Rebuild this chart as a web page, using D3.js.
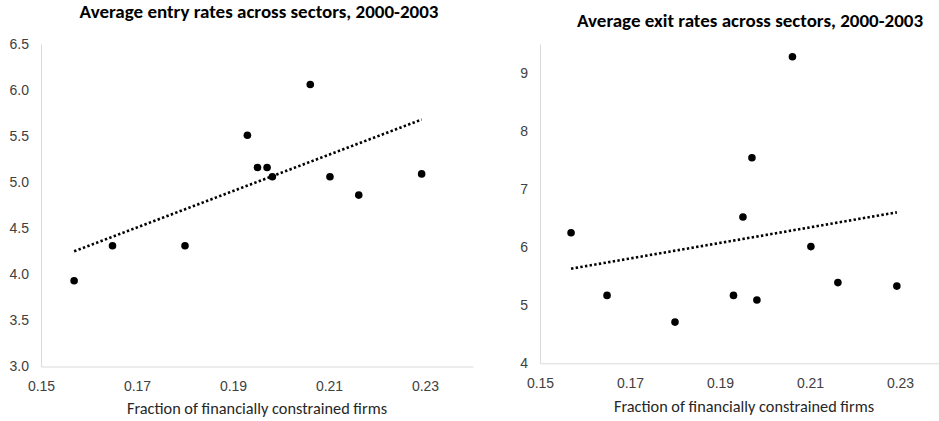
<!DOCTYPE html>
<html>
<head>
<meta charset="utf-8">
<script src="https://cdn.jsdelivr.net/npm/d3@7"></script>
<style>
  body { margin: 0; background: #fff; }
  svg { display: block; font-family: Carlito, Calibri, "Open Sans", sans-serif; }
  .axis .domain { stroke: #d9d9d9; stroke-width: 1; }
  .axis text { fill: #404040; font-size: 14px; }
  .title { font-weight: bold; font-size: 19px; fill: #000; }
  .xlabel { font-size: 16.3px; fill: #262626; }
</style>
</head>
<body>
<div class="chart"></div>
<script>
// fraction of financially constrained firms, one value per sector
const sectorShare = [0.1569, 0.1649, 0.1800, 0.1930, 0.1951, 0.1971, 0.1982, 0.2061, 0.2102, 0.2162, 0.2293];
// average entry / exit rates, same sector order
const entryRate = [3.93, 4.31, 4.31, 5.51, 5.16, 5.16, 5.06, 6.06, 5.06, 4.86, 5.09];
const exitRate  = [6.25, 5.17, 4.71, 5.17, 6.52, 7.54, 5.09, 9.28, 6.01, 5.39, 5.33];
// trend lines as drawn (end points)
const entryTrend = [[0.1569, 4.25], [0.2293, 5.68]];
const exitTrend  = [[0.1569, 5.63], [0.2293, 6.60]];
// ticks
const xTicks = [0.15, 0.17, 0.19, 0.21, 0.23];
const entryTicks = [3.0, 3.5, 4.0, 4.5, 5.0, 5.5, 6.0, 6.5];
const exitTicks = [4, 5, 6, 7, 8, 9];

const W = 939, H = 421;

var svg = d3.select(".chart")
    .append("svg")
    .attr("width", W)
    .attr("height", H);

function drawPanel(p)
{
    var x = d3.scaleLinear().domain([0.15, 0.24]).range([p.left, p.right]);
    var y = d3.scaleLinear().domain(p.yDomain).range([p.bottom, p.top]);

    var g = svg.append("g");

    // axe X
    g.append("g")
        .attr("class", "axis")
        .attr("transform", "translate(0," + p.bottom + ")")
        .call(d3.axisBottom(x)
            .tickValues(xTicks)
            .tickSize(0)
            .tickPadding(p.xPad)
            .tickFormat(d3.format(".2f")));

    // axe Y
    g.append("g")
        .attr("class", "axis")
        .attr("transform", "translate(" + p.left + ",0)")
        .call(d3.axisLeft(y)
            .tickValues(p.yTicks)
            .tickSize(0)
            .tickPadding(12)
            .tickFormat(p.yFormat));

    // tendance
    var line = d3.line()
        .x(function(d) { return x(d[0]); })
        .y(function(d) { return y(d[1]); });

    g.append("path")
        .datum(p.trend)
        .attr("d", line)
        .attr("fill", "none")
        .attr("stroke", "#000")
        .attr("stroke-width", 2.6)
        .attr("stroke-dasharray", "2.4,2.3");

    // points
    g.selectAll(".dot")
        .data(p.values)
        .enter()
        .append("circle")
        .attr("cx", function(_, i) { return x(sectorShare[i]); })
        .attr("cy", function(d) { return y(d); })
        .attr("r", 3.8)
        .attr("fill", "#000");

    // titre
    g.append("text")
        .attr("class", "title")
        .attr("x", p.titleX)
        .attr("y", p.titleY)
        .attr("text-anchor", "middle")
        .text(p.title);

    g.append("text")
        .attr("class", "xlabel")
        .attr("x", p.xLabelX)
        .attr("y", p.xLabelY)
        .attr("text-anchor", "middle")
        .text("Fraction of financially constrained firms");
}

drawPanel({
    left: 41, right: 473, top: 44, bottom: 366.5,
    yDomain: [3.0, 6.5], yTicks: entryTicks, yFormat: d3.format(".1f"),
    xPad: 14.5,
    values: entryRate, trend: entryTrend,
    title: "Average entry rates across sectors, 2000-2003",
    titleX: 259, titleY: 18,
    xLabelX: 257, xLabelY: 414
});

drawPanel({
    left: 540, right: 945, top: 44, bottom: 363.3,
    yDomain: [4, 9.5], yTicks: exitTicks, yFormat: d3.format("d"),
    xPad: 14.5,
    values: exitRate, trend: exitTrend,
    title: "Average exit rates across sectors, 2000-2003",
    titleX: 750, titleY: 27,
    xLabelX: 744, xLabelY: 412
});
</script>
</body>
</html>
